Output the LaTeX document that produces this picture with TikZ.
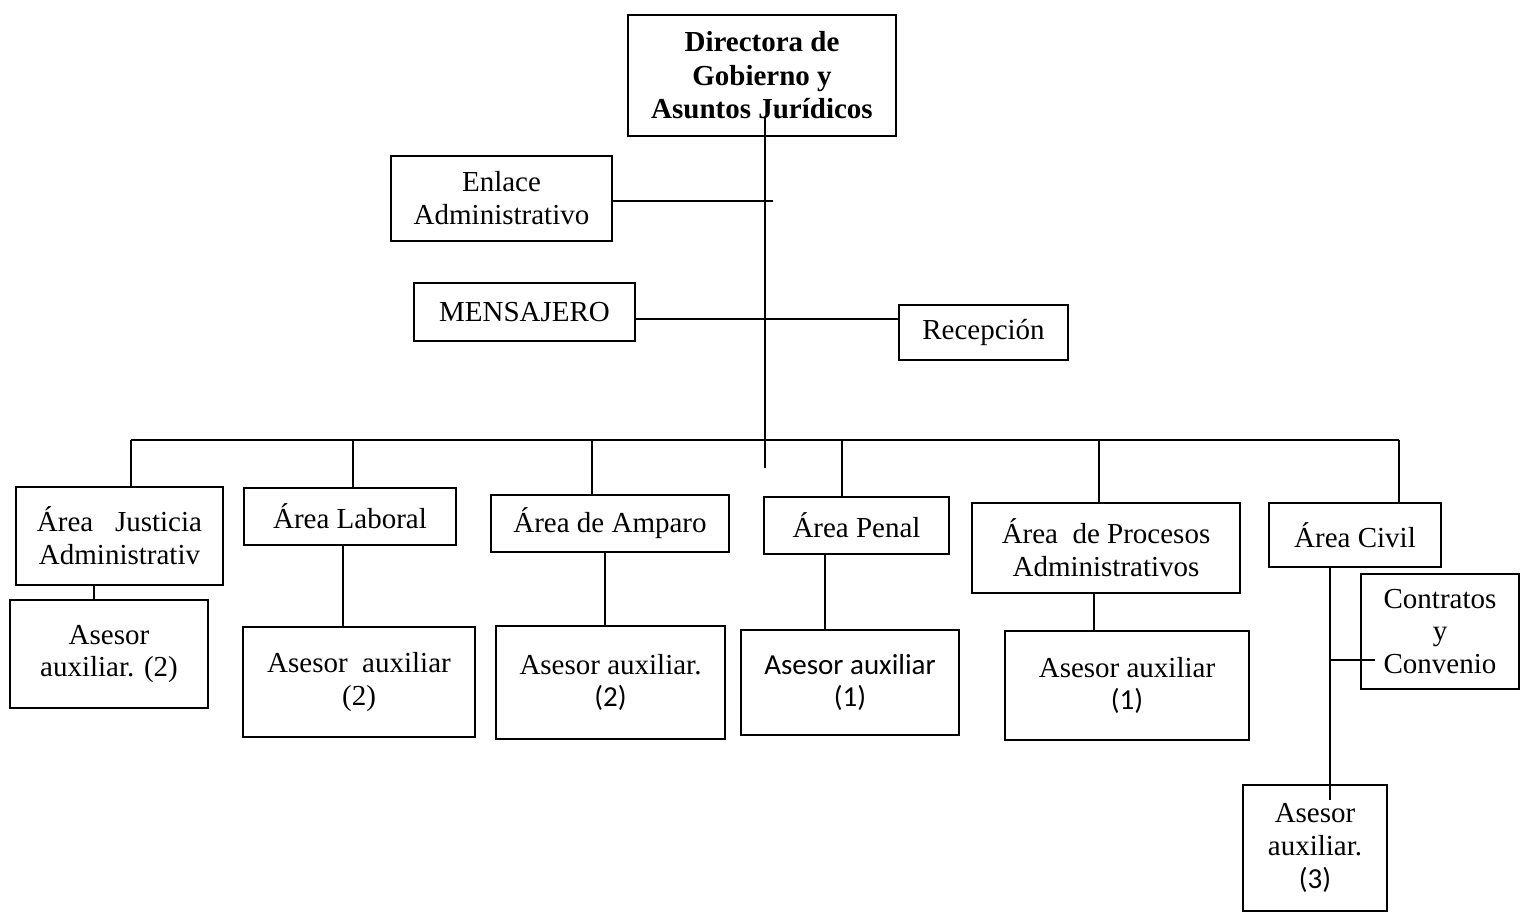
\documentclass[tikz,border=0pt]{standalone}
\usepackage{fontspec}
\setmainfont{Liberation Serif}
\newfontfamily\calib{Carlito}
\usepackage{tikz}
\pgfdeclarelayer{nodelayer}
\pgfdeclarelayer{edgelayer}
\pgfsetlayers{edgelayer,nodelayer,main}
\tikzstyle{unit}=[fill=none, draw=black, shape=rectangle, align=center, inner sep=0pt, line width=1pt]
\tikzstyle{head unit}=[fill=none, draw=black, shape=rectangle, align=center, inner sep=0pt, line width=1pt, font=\fontsize{16.5}{19}\selectfont\bfseries]
\tikzstyle{none}=[fill=none, draw=none, shape=circle, scale=0]
\tikzstyle{link}=[draw=black, line width=1pt]

\begin{document}
\begin{tikzpicture}[font=\fontsize{16.5}{18.7}\selectfont]
	\useasboundingbox (0,0) rectangle (30.52,-18.28);
	\begin{pgfonlayer}{nodelayer}
		\node [style=head unit, minimum width=5.36cm, minimum height=2.42cm] (0) at (15.24, -1.51) {Directora de\\Gobierno y\\Asuntos Jurídicos};
		\node [style=unit, minimum width=4.42cm, minimum height=1.70cm] (1) at (10.03, -3.97) {Enlace\\Administrativo};
		\node [style=unit, minimum width=4.42cm, minimum height=1.16cm] (2) at (10.49, -6.24) {MENSAJERO};
		\node [style=unit, minimum width=3.38cm, minimum height=1.10cm] (3) at (19.67, -6.65) {Recepción};
		\node [style=unit, minimum width=4.14cm, minimum height=1.96cm] (4) at (2.39, -10.72) {Área\ \ \ Justicia\\Administrativ};
		\node [style=unit, minimum width=4.24cm, minimum height=1.14cm] (5) at (7.00, -10.33) {Área Laboral};
		\node [style=unit, minimum width=4.76cm, minimum height=1.14cm] (6) at (12.20, -10.47) {Área de Amparo};
		\node [style=unit, minimum width=3.70cm, minimum height=1.14cm] (7) at (17.13, -10.51) {Área Penal};
		\node [style=unit, minimum width=5.36cm, minimum height=1.80cm] (8) at (22.12, -10.96) {Área\ \ de Procesos\\Administrativos};
		\node [style=unit, minimum width=3.44cm, minimum height=1.28cm] (9) at (27.10, -10.70) {Área Civil};
		\node [style=unit, minimum width=3.96cm, minimum height=2.16cm] (10) at (2.18, -13.08) {Asesor\\auxiliar. (2)};
		\node [style=unit, minimum width=4.64cm, minimum height=2.20cm] (11) at (7.18, -13.64) {Asesor\ \ auxiliar\\(2)};
		\node [style=unit, minimum width=4.58cm, minimum height=2.26cm] (12) at (12.21, -13.65) {Asesor auxiliar.\\{\calib (2)}};
		\node [style=unit, minimum width=4.36cm, minimum height=2.10cm] (13) at (17.00, -13.65) {\calib Asesor auxiliar\\\calib (1)};
		\node [style=unit, minimum width=4.88cm, minimum height=2.18cm] (14) at (22.54, -13.71) {Asesor auxiliar\\{\calib (1)}};
		\node [style=unit, minimum width=3.16cm, minimum height=2.30cm] (15) at (28.80, -12.63) {Contratos\\y\\Convenio};
		\node [style=unit, minimum width=2.88cm, minimum height=2.52cm] (16) at (26.30, -16.96) {Asesor\\auxiliar.\\{\calib (3)}};
		\node [style=none] (17) at (15.30, -2.36) {};
		\node [style=none] (18) at (15.30, -9.36) {};
		\node [style=none] (19) at (15.46, -4.02) {};
		\node [style=none] (20) at (15.30, -6.38) {};
		\node [style=none] (21) at (2.62, -8.80) {};
		\node [style=none] (22) at (7.06, -8.80) {};
		\node [style=none] (23) at (11.84, -8.80) {};
		\node [style=none] (24) at (16.84, -8.80) {};
		\node [style=none] (25) at (21.98, -8.80) {};
		\node [style=none] (26) at (27.98, -8.80) {};
		\node [style=none] (27) at (1.88, -11.85) {};
		\node [style=none] (28) at (6.86, -11.70) {};
		\node [style=none] (29) at (12.10, -11.70) {};
		\node [style=none] (30) at (16.50, -11.80) {};
		\node [style=none] (31) at (21.88, -12.20) {};
		\node [style=none] (32) at (26.60, -12.00) {};
		\node [style=none] (33) at (27.50, -13.20) {};
		\node [style=none] (34) at (26.60, -16.00) {};
	\end{pgfonlayer}
	\begin{pgfonlayer}{edgelayer}
		\draw [style=link] (17.center) to (18.center);
		\draw [style=link] (1.east |- 19.center) to (19.center);
		\draw [style=link] (2.east |- 20.center) to (3.west |- 20.center);
		\draw [style=link] (21.center) to (26.center);
		\draw [style=link] (21.center) to (21.center |- 4.north);
		\draw [style=link] (22.center) to (22.center |- 5.north);
		\draw [style=link] (23.center) to (23.center |- 6.north);
		\draw [style=link] (24.center) to (24.center |- 7.north);
		\draw [style=link] (25.center) to (25.center |- 8.north);
		\draw [style=link] (26.center) to (26.center |- 9.north);
		\draw [style=link] (27.center |- 4.south) to (27.center |- 10.north);
		\draw [style=link] (28.center |- 5.south) to (28.center |- 11.north);
		\draw [style=link] (29.center |- 6.south) to (29.center |- 12.north);
		\draw [style=link] (30.center |- 7.south) to (30.center |- 13.north);
		\draw [style=link] (31.center |- 8.south) to (31.center |- 14.north);
		\draw [style=link] (32.center |- 9.south) to (34.center);
		\draw [style=link] (32.center |- 33.center) to (33.center);
	\end{pgfonlayer}
\end{tikzpicture}
\end{document}
